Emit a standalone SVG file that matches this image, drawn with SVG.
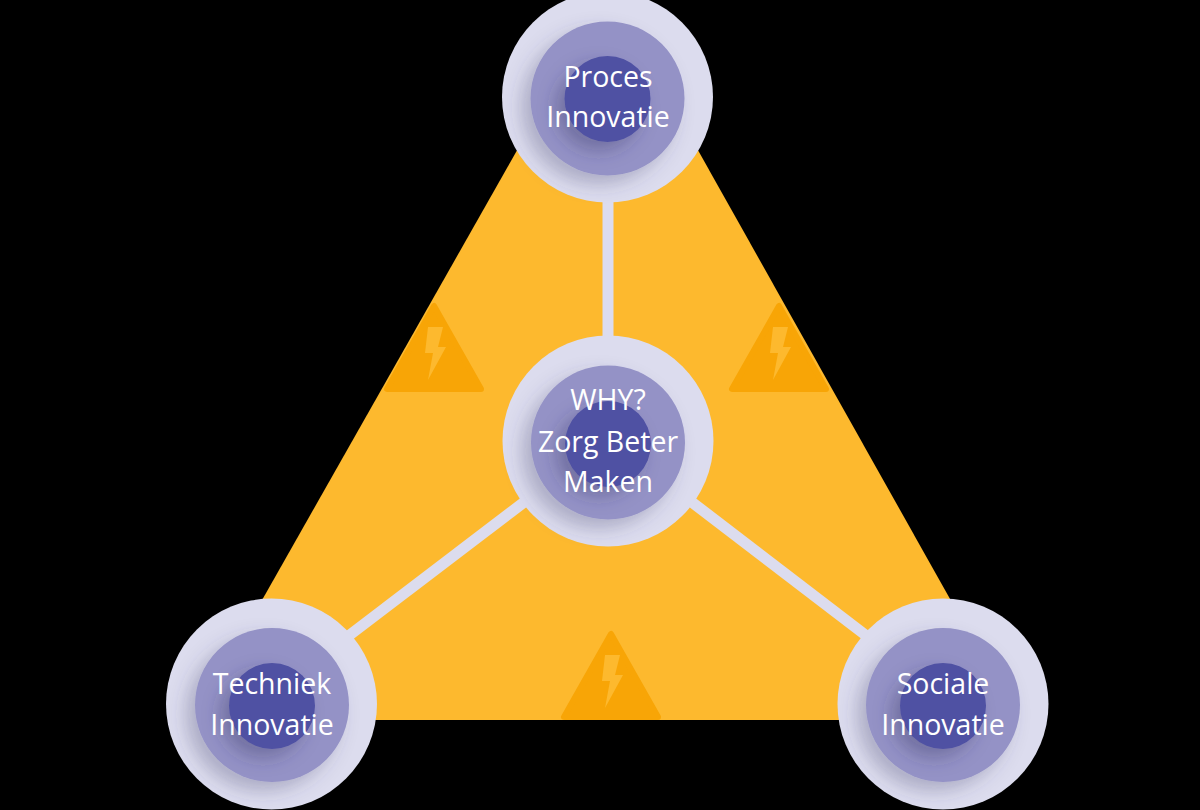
<svg xmlns="http://www.w3.org/2000/svg" width="1200" height="810" viewBox="0 0 1200 810">
<style>
.outer{fill:#dcdcee}
.mid{fill:#9492c6;filter:url(#sh)}
.inner{fill:#4f51a3;filter:url(#sh2)}
.warn{fill:#f8a506;stroke:#f8a506;stroke-width:6;stroke-linejoin:round}
.bolt{fill:#fdb92e}
.spoke{stroke:#dcdcee;stroke-width:11;fill:none}
text{font-family:"Open Sans","Liberation Sans",sans-serif;font-size:28.500px;fill:#fff;text-anchor:middle}
</style>
<defs>
<filter id="sh" x="-40%" y="-40%" width="180%" height="180%"><feDropShadow dx="-9" dy="9" stdDeviation="9" flood-color="#40406a" flood-opacity=".3"/></filter>
<filter id="sh2" x="-60%" y="-60%" width="220%" height="220%"><feDropShadow dx="-9" dy="9" stdDeviation="9" flood-color="#303060" flood-opacity=".35"/></filter>
<path id="w" class="warn" d="M0 3 L-47 86 H47 Z"/>
<path id="b" class="bolt" d="M-6 24 H9 L4 44 H12 L-6 77 L-1 50 H-9 Z"/>
</defs>
<rect width="1200" height="810" fill="#000"/>
<g id="triangle"><polygon points="608,-10 1018,720 194,720" fill="#fdb92e"/></g>
<g id="warnings">
<g id="warning-left" transform="translate(434,303)"><use href="#w"/><use href="#b"/></g>
<g id="warning-right" transform="translate(779,303)"><use href="#w"/><use href="#b"/></g>
<g id="warning-bottom" transform="translate(611,631)"><use href="#w"/><use href="#b"/></g>
</g>
<g id="connectors">
<line class="spoke" x1="608" y1="180" x2="608" y2="360"/>
<line class="spoke" x1="540" y1="490" x2="330" y2="650"/>
<line class="spoke" x1="676" y1="490" x2="885" y2="650"/>
</g>
<g id="node-proces">
<circle class="outer" cx="607.500" cy="97" r="105.500"/><circle class="mid" cx="607.500" cy="98.500" r="77"/><circle class="inner" cx="607.500" cy="99" r="43"/>
<text x="608" y="87">Proces</text><text x="608" y="127">Innovatie</text>
</g>
<g id="node-why">
<circle class="outer" cx="608" cy="441" r="105.500"/><circle class="mid" cx="608" cy="442.500" r="77"/><circle class="inner" cx="608" cy="444" r="43"/>
<text x="608" y="410">WHY?</text><text x="608" y="452">Zorg Beter</text><text x="608" y="492">Maken</text>
</g>
<g id="node-techniek">
<circle class="outer" cx="271.500" cy="704" r="105.500"/><circle class="mid" cx="272" cy="705" r="77"/><circle class="inner" cx="272" cy="706" r="43"/>
<text x="272" y="694">Techniek</text><text x="272" y="735">Innovatie</text>
</g>
<g id="node-sociale">
<circle class="outer" cx="943" cy="704" r="105.500"/><circle class="mid" cx="943" cy="705" r="77"/><circle class="inner" cx="943" cy="706" r="43"/>
<text x="943" y="694">Sociale</text><text x="943" y="735">Innovatie</text>
</g>
</svg>
